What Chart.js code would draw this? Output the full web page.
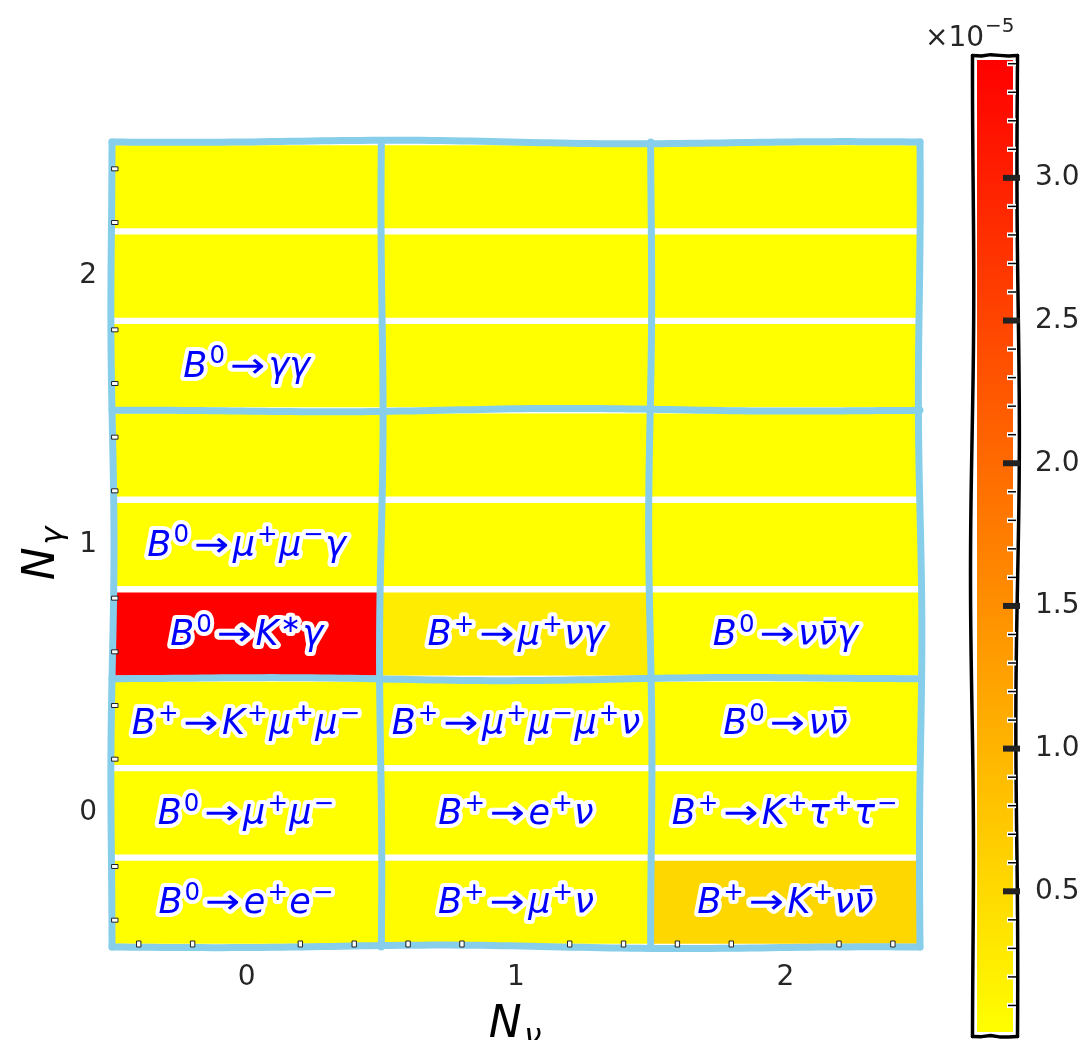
<!DOCTYPE html>
<html>
<head>
<meta charset="utf-8">
<script src="https://cdn.jsdelivr.net/npm/chart.js@4.4.0/dist/chart.umd.min.js"></script>
<style>
html, body { margin: 0; padding: 0; background: #fff; }
#wrap { position: relative; width: 1087px; height: 1040px; }
#main { position: absolute; left: 0; top: 0; }
#cbar { position: absolute; left: 900px; top: 0; }
</style>
</head>
<body>
<div id="wrap">
  <canvas id="main" width="1087" height="1040"></canvas>
  <canvas id="cbar" width="187" height="1040"></canvas>
</div>
<script>
// N_nu columns and N_gamma rows; every (N_nu, N_gamma) cell holds 3 decay slots, listed bottom to top
var nuLabels = [0, 1, 2];
var gammaLabels = [0, 1, 2];

var decaysNu0 = ['B^0→e^+e^−', 'B^0→μ^+μ^−', 'B^+→K^+μ^+μ^−', 'B^0→K^∗γ', 'B^0→μ^+μ^−γ', '', 'B^0→γγ', '', ''];
var decaysNu1 = ['B^+→μ^+ν', 'B^+→e^+ν', 'B^+→μ^+μ^−μ^+ν', 'B^+→μ^+νγ', '', '', '', '', ''];
var decaysNu2 = ['B^+→K^+νν\u0304', 'B^+→K^+τ^+τ^−', 'B^0→νν\u0304', 'B^0→νν\u0304γ', '', '', '', '', ''];

// branching fractions, units of 1e-5
var brNu0 = [0.00001, 0.00003, 0.044, 3.42, 0.0002, 0, 0.003, 0, 0];
var brNu1 = [0.04, 0.0001, 0.001, 0.25, 0, 0, 0, 0, 0];
var brNu2 = [0.54, 0.015, 0.0001, 0.0002, 0, 0, 0, 0, 0];

var cbTicks = [0.5, 1.0, 1.5, 2.0, 2.5, 3.0];

var decays = [decaysNu0, decaysNu1, decaysNu2];
var brs = [brNu0, brNu1, brNu2];
var allBr = brNu0.concat(brNu1, brNu2);
var vmin = Math.min.apply(null, allBr);
var vmax = Math.max.apply(null, allBr);

// autumn_r colormap
function cmap(v) {
	var t = (v - vmin) / (vmax - vmin);
	t = Math.max(0, Math.min(1, t));
	return 'rgb(255,' + Math.round(255 * (1 - t)) + ',0)';
}

var cells = [];
nuLabels.forEach(function(nu, i) {
	brs[i].forEach(function(v, k) {
		var g = gammaLabels[Math.floor(k / 3)];
		var lo = g - 0.5 + (k % 3) / 3;
		cells.push({x: nu, y: [lo, lo + 1 / 3], v: v, label: decays[i][k]});
	});
});

var FAM = '"DejaVu Sans"';

function mathTokens(str) {
	var toks = [];
	for (var i = 0; i < str.length; i++) {
		var c = str[i], pos = 0;
		if (c === '^' || c === '_') { pos = c === '^' ? 1 : -1; i++; c = str[i]; }
		if (c === '\u0304') { toks[toks.length - 1].bar = true; continue; }
		toks.push({c: c, pos: pos, bar: false});
	}
	return toks;
}

// draws simple math text centred on x, baseline y
function drawMath(ctx, str, x, y, size, fill, stroke, strokeW) {
	var toks = mathTokens(str);
	var w = 0;
	toks.forEach(function(t, i) {
		var s = t.pos ? size * 0.7 : size;
		var it = /[A-Za-z\u0370-\u03ff]/.test(t.c);
		t.font = (it ? 'italic ' : '') + s + 'px ' + FAM;
		ctx.font = t.font;
		t.sx = t.c === '→' ? 1.2 : 1;
		t.w = ctx.measureText(t.c).width * t.sx;
		t.pre = t.c === '→' ? size * 0.1 : (t.pos && (i === 0 || !toks[i - 1].pos) ? size * 0.06 : 0);
		t.post = t.c === '→' ? size * 0.1 : (t.pos ? size * 0.04 : 0);
		t.dy = t.pos > 0 ? -size * 0.38 : (t.pos < 0 ? size * 0.18 : 0);
		w += t.w + t.pre + t.post;
	});
	var passes = [];
	if (stroke) passes.push('stroke');
	passes.push('fill');
	passes.forEach(function(p) {
		var cx = x - w / 2;
		toks.forEach(function(t) {
			cx += t.pre;
			ctx.font = t.font;
			ctx.textAlign = 'left';
			ctx.textBaseline = 'alphabetic';
			ctx.save();
			ctx.translate(cx, y + t.dy);
			ctx.scale(t.sx, 1);
			if (p === 'stroke') {
				ctx.strokeStyle = stroke;
				ctx.lineWidth = strokeW;
				ctx.lineJoin = 'round';
				ctx.strokeText(t.c, 0, 0);
			} else {
				ctx.fillStyle = fill;
				ctx.fillText(t.c, 0, 0);
			}
			ctx.restore();
			if (t.bar) {
				var by = y + t.dy - size * 0.66;
				ctx.beginPath();
				ctx.moveTo(cx + t.w * 0.3, by);
				ctx.lineTo(cx + t.w * 0.95, by);
				ctx.lineCap = 'butt';
				ctx.lineWidth = p === 'stroke' ? strokeW + 2 : size * 0.07;
				ctx.strokeStyle = p === 'stroke' ? stroke : fill;
				ctx.stroke();
			}
			cx += t.w + t.post;
		});
	});
}

// hand-drawn looking line between two points
function wobblyLine(ctx, x0, y0, x1, y1, amp, phase) {
	var len = Math.hypot(x1 - x0, y1 - y0);
	var nx = -(y1 - y0) / len, ny = (x1 - x0) / len;
	var n = Math.max(2, Math.round(len / 10));
	ctx.beginPath();
	for (var i = 0; i <= n; i++) {
		var f = i / n;
		var d = amp * Math.sin(f * Math.PI * 3 + phase) * Math.sin(f * Math.PI);
		var px = x0 + (x1 - x0) * f + nx * d, py = y0 + (y1 - y0) * f + ny * d;
		if (i === 0) ctx.moveTo(px, py); else ctx.lineTo(px, py);
	}
	ctx.stroke();
}

var heatDecor = {
	id: 'heatDecor',
	afterDatasetsDraw: function(chart) {
		var ctx = chart.ctx, xs = chart.scales.x, ys = chart.scales.y, a = chart.chartArea;
		ctx.save();
		// cell boundaries
		ctx.strokeStyle = '#87ceeb';
		ctx.lineWidth = 7;
		ctx.lineCap = 'round';
		ctx.lineJoin = 'round';
		[-0.5, 0.5, 1.5, 2.5].forEach(function(b, i) {
			var px = xs.getPixelForValue(b);
			wobblyLine(ctx, px, a.top, px, a.bottom, 2, i * 1.7);
			var py = ys.getPixelForValue(b);
			wobblyLine(ctx, a.left, py, a.right, py, 2, i * 2.3 + 1);
		});
		// minor ticks
		ctx.lineWidth = 1;
		ctx.strokeStyle = '#222';
		ctx.fillStyle = '#fff';
		for (var m = -0.4; m < 2.5; m += 0.2) {
			if (Math.abs(m - Math.round(m)) < 0.01) continue;
			var mx = xs.getPixelForValue(m);
			ctx.fillRect(mx - 2, a.bottom - 6, 4, 6);
			ctx.strokeRect(mx - 2, a.bottom - 6, 4, 6);
			var my = ys.getPixelForValue(m);
			ctx.fillRect(a.left, my - 2, 6, 4);
			ctx.strokeRect(a.left, my - 2, 6, 4);
		}
		// decay labels
		cells.forEach(function(c) {
			if (!c.label) return;
			var px = xs.getPixelForValue(c.x);
			var py = ys.getPixelForValue((c.y[0] + c.y[1]) / 2);
			drawMath(ctx, c.label, px, py + 11, 35, '#0000ff', '#ffffff', 8);
		});
		// axis titles
		drawMath(ctx, 'N_ν', (a.left + a.right) / 2, 1037, 44, '#000', null, 0);
		ctx.translate(54, (a.top + a.bottom) / 2 + 8);
		ctx.rotate(-Math.PI / 2);
		drawMath(ctx, 'N_γ', 0, 0, 44, '#000', null, 0);
		ctx.restore();
	}
};

new Chart(document.getElementById('main'), {
	type: 'bar',
	data: {
		datasets: [{
			data: cells,
			backgroundColor: function(c) { return c.raw ? cmap(c.raw.v) : '#ff0'; },
			borderColor: '#ffffff',
			borderWidth: {top: 3.5, bottom: 3.5, left: 0, right: 0},
			borderSkipped: false,
			categoryPercentage: 1,
			barPercentage: 1
		}]
	},
	options: {
		responsive: false,
		animation: false,
		layout: {padding: {left: 0, top: 142, right: 167, bottom: 0}},
		plugins: {legend: {display: false}, tooltip: {enabled: false}},
		scales: {
			x: {
				type: 'linear', min: -0.5, max: 2.5, offset: false,
				grid: {display: false}, border: {display: false},
				afterBuildTicks: function(s) { s.ticks = nuLabels.map(function(v) { return {value: v}; }); },
				afterFit: function(s) { s.height = 93; },
				ticks: {padding: 6, color: '#262626', font: {family: 'DejaVu Sans', size: 28}}
			},
			y: {
				type: 'linear', min: -0.5, max: 2.5,
				grid: {display: false}, border: {display: false},
				afterBuildTicks: function(s) { s.ticks = gammaLabels.map(function(v) { return {value: v}; }); },
				afterFit: function(s) { s.width = 112; },
				ticks: {padding: 7, color: '#262626', font: {family: 'DejaVu Sans', size: 28}}
			}
		}
	},
	plugins: [heatDecor]
});

var cbDecor = {
	id: 'cbDecor',
	afterDatasetsDraw: function(chart) {
		var ctx = chart.ctx, a = chart.chartArea, ys = chart.scales.y;
		ctx.save();
		ctx.strokeStyle = '#ffffff';
		ctx.lineWidth = 2;
		ctx.strokeRect(a.left + 1, a.top + 1, a.right - a.left - 2, a.bottom - a.top - 2);
		ctx.strokeStyle = '#000';
		ctx.lineWidth = 3.5;
		ctx.lineCap = 'round';
		ctx.lineJoin = 'round';
		var l = a.left - 2.5, r = a.right + 2.5, t = a.top - 2.5, b = a.bottom + 2.5;
		wobblyLine(ctx, l, t, r, t, 1, 0.5);
		wobblyLine(ctx, r, t, r, b, 2, 1.2);
		wobblyLine(ctx, r, b, l, b, 1, 2.1);
		wobblyLine(ctx, l, b, l, t, 2, 0.3);
		// minor ticks
		ctx.lineCap = 'butt';
		for (var m = 0.1; m < vmax; m += 0.1) {
			if (Math.abs(m * 2 - Math.round(m * 2)) < 0.01) continue;
			var py = ys.getPixelForValue(m);
			ctx.fillStyle = '#fff';
			ctx.fillRect(a.right - 8, py - 2.5, 9, 5);
			ctx.strokeStyle = '#000';
			ctx.lineWidth = 1.5;
			ctx.beginPath(); ctx.moveTo(a.right - 7, py); ctx.lineTo(a.right + 1, py); ctx.stroke();
		}
		// major ticks
		ctx.strokeStyle = '#222';
		ctx.lineWidth = 6;
		cbTicks.forEach(function(v) {
			var py = ys.getPixelForValue(v);
			ctx.beginPath(); ctx.moveTo(a.right - 12, py); ctx.lineTo(a.right + 5, py); ctx.stroke();
		});
		// offset text
		ctx.fillStyle = '#262626';
		ctx.textBaseline = 'alphabetic';
		ctx.textAlign = 'left';
		ctx.font = '28px ' + FAM;
		var ox = a.left - 50;
		ctx.fillText('×10', ox, 46);
		var w = ctx.measureText('×10').width;
		ctx.font = '20px ' + FAM;
		ctx.fillText('−5', ox + w + 1, 32);
		ctx.restore();
	}
};

new Chart(document.getElementById('cbar'), {
	type: 'bar',
	data: {
		labels: ['cb'],
		datasets: [{
			data: [[vmin, vmax]],
			backgroundColor: function(c) {
				var a = c.chart.chartArea;
				if (!a) return cmap(vmin);
				var g = c.chart.ctx.createLinearGradient(0, a.bottom, 0, a.top);
				g.addColorStop(0, cmap(vmin));
				g.addColorStop(1, cmap(vmax));
				return g;
			},
			borderWidth: 0,
			categoryPercentage: 1,
			barPercentage: 1
		}]
	},
	options: {
		responsive: false,
		animation: false,
		layout: {padding: {left: 75, top: 58, right: 0, bottom: 6}},
		plugins: {legend: {display: false}, tooltip: {enabled: false}},
		scales: {
			x: {display: false},
			y: {
				position: 'right', min: vmin, max: vmax,
				grid: {display: false}, border: {display: false},
				afterBuildTicks: function(s) { s.ticks = cbTicks.map(function(v) { return {value: v}; }); },
				afterFit: function(s) { s.width = 72; s.paddingTop = 0; s.paddingBottom = 0; },
				ticks: {padding: 12, color: '#262626', font: {family: 'DejaVu Sans', size: 28},
					callback: function(v) { return v.toFixed(1); }}
			}
		}
	},
	plugins: [cbDecor]
});
</script>
</body>
</html>
